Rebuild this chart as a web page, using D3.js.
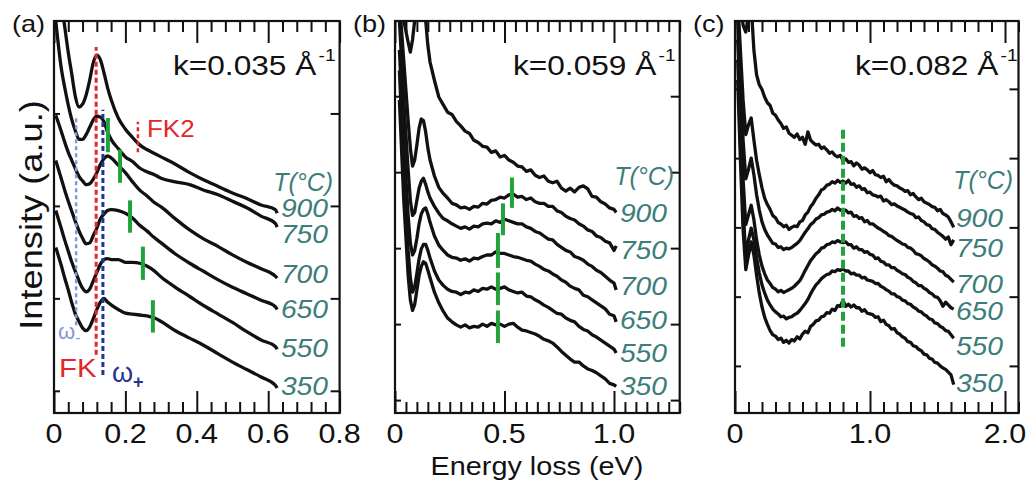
<!DOCTYPE html>
<html><head><meta charset="utf-8">
<script src="https://cdn.jsdelivr.net/npm/d3@7"></script>
<style>
body{margin:0;background:#fff;}
svg{display:block;}
text{font-family:"Liberation Sans",Arial,Helvetica,sans-serif;}
</style>
</head><body>
<svg id="chart" width="1036" height="484"></svg>
<script>
// ---------------- DATA ----------------
const temperatures = ["900","750","700","650","550","350"];

// Panel (a) k = 0.035 1/Å
const energyA = [0.005,0.02,0.03,0.04,0.05,0.06,0.07,0.08,0.09,0.10,0.11,0.12,0.13,0.14,0.15,0.16,0.18,0.20,0.22,0.24,0.26,0.28,0.30,0.34,0.38,0.42,0.46,0.50,0.54,0.58,0.62,0.625];
const a900 = [4.88,4.23,3.94,3.66,3.42,3.18,3.07,3.10,3.20,3.36,3.55,3.63,3.58,3.44,3.28,3.15,2.95,2.83,2.74,2.66,2.61,2.57,2.53,2.45,2.36,2.28,2.21,2.14,2.08,2.01,1.96,1.92];
const a750 = [4.00,3.50,3.28,3.09,2.93,2.81,2.72,2.72,2.77,2.85,2.93,2.97,2.96,2.91,2.80,2.72,2.62,2.53,2.48,2.41,2.37,2.34,2.30,2.26,2.23,2.17,2.12,2.05,1.98,1.89,1.81,1.77];
const a700 = [2.98,2.81,2.69,2.58,2.49,2.40,2.32,2.27,2.23,2.24,2.29,2.36,2.45,2.51,2.54,2.52,2.44,2.36,2.26,2.17,2.11,2.04,1.99,1.86,1.74,1.64,1.56,1.47,1.39,1.32,1.24,1.22];
const a650 = [2.49,2.30,2.17,2.05,1.94,1.83,1.73,1.65,1.59,1.60,1.68,1.76,1.86,1.91,1.95,1.96,1.95,1.92,1.87,1.79,1.73,1.66,1.60,1.48,1.38,1.29,1.20,1.12,1.05,0.98,0.91,0.88];
const a550 = [1.95,1.76,1.63,1.51,1.39,1.29,1.19,1.11,1.07,1.10,1.19,1.28,1.37,1.42,1.43,1.42,1.42,1.39,1.39,1.38,1.35,1.30,1.23,1.12,1.02,0.92,0.83,0.74,0.64,0.55,0.48,0.45];
const a350 = [1.55,1.36,1.22,1.09,0.95,0.83,0.75,0.68,0.65,0.69,0.78,0.88,0.96,1.00,0.96,0.93,0.88,0.84,0.83,0.82,0.81,0.79,0.75,0.65,0.57,0.49,0.40,0.31,0.23,0.15,0.06,0.03];
const markAEnergy = [0.151,0.185,0.213,0.249,0.277];
const markALow    = [2.58,2.25,1.71,1.20,0.63];
const markAHigh   = [2.95,2.61,2.06,1.56,0.98];
const fkEnergy = 0.118, fkRange = [0.39,3.72];
const omegaMinusEnergy = 0.062, omegaMinusRange = [0.71,2.96];
const omegaPlusEnergy = 0.137, omegaPlusRange = [0.17,3.04];
const fk2Energy = 0.235, fk2Range = [2.58,2.91];

// Panel (b) k = 0.059 1/Å
const energyB = [0.02,0.04,0.06,0.07,0.08,0.09,0.10,0.11,0.12,0.13,0.14,0.15,0.16,
  0.18,0.20,0.22,0.24,0.26,0.28,0.30,0.32,0.34,0.36,0.38,0.40,0.42,0.44,0.46,0.48,0.50,0.52,0.54,0.56,0.58,0.60,
  0.62,0.64,0.66,0.68,0.70,0.72,0.74,0.76,0.78,0.80,0.82,0.84,0.86,0.88,0.90,0.92,0.94,0.96,0.98,1.00,1.01];
const b900 = [5.53,5.0,4.71,4.58,4.74,5.0,5.26,5.46,5.46,5.26,5.0,4.67,4.45,
  4.21,3.99,3.89,3.79,3.76,3.67,3.61,3.54,3.51,3.42,3.39,3.34,3.33,3.26,3.28,3.20,3.22,3.16,3.13,3.08,3.07,3.01,
  3.03,2.96,2.93,2.95,2.88,2.86,2.88,2.79,2.75,2.79,2.74,2.80,2.82,2.78,2.68,2.67,2.61,2.58,2.53,2.51,2.47];
const b750 = [5.26,4.47,3.68,3.32,3.08,3.16,3.36,3.58,3.70,3.68,3.53,3.32,3.16,
  2.95,2.80,2.72,2.66,2.59,2.57,2.53,2.54,2.51,2.55,2.54,2.59,2.58,2.63,2.64,2.67,2.66,2.70,2.71,2.67,2.68,2.64,
  2.66,2.61,2.59,2.59,2.55,2.55,2.49,2.47,2.42,2.39,2.37,2.32,2.29,2.24,2.22,2.16,2.14,2.09,2.07,1.97,2.03];
const b700 = [5.0,3.95,3.03,2.63,2.43,2.47,2.63,2.79,2.88,2.92,2.84,2.74,2.66,
  2.55,2.46,2.39,2.36,2.32,2.29,2.26,2.28,2.25,2.29,2.28,2.32,2.33,2.32,2.36,2.34,2.38,2.36,2.34,2.32,2.32,2.28,
  2.26,2.22,2.20,2.16,2.12,2.11,2.05,2.01,1.97,1.95,1.89,1.87,1.84,1.79,1.76,1.71,1.68,1.63,1.58,1.54,1.45];
const b650 = [4.61,3.42,2.43,2.07,1.91,1.97,2.13,2.32,2.45,2.51,2.53,2.45,2.34,
  2.16,2.04,1.97,1.91,1.88,1.87,1.84,1.86,1.83,1.87,1.86,1.89,1.91,1.91,1.95,1.93,1.93,1.91,1.89,1.88,1.86,1.84,
  1.83,1.79,1.76,1.72,1.70,1.66,1.63,1.58,1.55,1.50,1.47,1.45,1.38,1.36,1.32,1.28,1.24,1.20,1.13,1.11,1.03];
const b550 = [4.34,3.03,1.97,1.61,1.42,1.49,1.67,1.86,1.99,2.05,2.05,1.97,1.87,
  1.70,1.58,1.51,1.46,1.43,1.42,1.39,1.42,1.41,1.45,1.43,1.47,1.46,1.49,1.46,1.47,1.49,1.45,1.43,1.41,1.42,1.37,
  1.36,1.32,1.29,1.25,1.22,1.18,1.14,1.13,1.08,1.05,1.03,0.97,0.93,0.91,0.86,0.83,0.79,0.75,0.71,0.67,0.62];
const b350 = [3.95,2.63,1.64,1.32,1.18,1.26,1.45,1.64,1.76,1.82,1.80,1.71,1.61,
  1.42,1.28,1.17,1.08,1.03,0.99,0.96,0.99,0.95,0.97,0.96,1.00,0.97,1.01,0.99,1.00,0.97,1.00,1.01,0.96,0.92,0.91,
  0.89,0.87,0.84,0.80,0.78,0.75,0.70,0.64,0.59,0.54,0.50,0.50,0.45,0.41,0.39,0.36,0.32,0.28,0.22,0.20,0.18];
const markBEnergy = [0.534,0.493,0.470,0.470,0.470];
const markBLow    = [2.53,2.17,1.74,1.25,0.75];
const markBHigh   = [2.93,2.59,2.20,1.68,1.18];

// Panel (c) k = 0.082 1/Å
const energyC = [0.02,0.04,0.06,0.08,0.10,0.12,0.14,0.16,0.18,0.20,
  0.22,0.24,0.26,0.28,0.30,0.32,0.34,0.36,0.38,0.40,
  0.42,0.44,0.46,0.48,0.50,0.52,0.54,0.56,0.58,0.60,
  0.62,0.64,0.66,0.68,0.70,0.72,0.74,0.76,0.78,0.80,
  0.82,0.84,0.86,0.88,0.90,0.92,0.94,0.96,0.98,1.00,
  1.02,1.04,1.06,1.08,1.10,1.12,1.14,1.16,1.18,1.20,
  1.22,1.24,1.26,1.28,1.30,1.32,1.34,1.36,1.38,1.40,
  1.42,1.44,1.46,1.48,1.50,1.52,1.54,1.56,1.58,1.60, 1.62];
const c900 = [5.72,5.29,4.92,4.82,5.07,5.21,4.56,4.20,4.06,3.99,
  3.88,3.80,3.76,3.65,3.62,3.55,3.50,3.43,3.45,3.36,
  3.33,3.30,3.35,3.27,3.30,3.20,3.38,3.26,3.22,3.19,
  3.20,3.14,3.16,3.12,3.07,3.09,3.04,3.02,3.04,2.97,
  2.99,2.94,2.95,2.89,2.93,2.90,2.84,2.86,2.83,2.79,
  2.82,2.76,2.75,2.72,2.74,2.66,2.69,2.64,2.61,2.60,
  2.57,2.55,2.52,2.53,2.47,2.49,2.44,2.40,2.42,2.37,
  2.35,2.33,2.30,2.29,2.24,2.26,2.20,2.18,2.15,2.08, 2.00];
const c750 = [5.29,4.56,3.84,3.34,3.48,3.58,3.26,2.97,2.76,2.57,
  2.42,2.33,2.26,2.17,2.14,2.07,2.05,2.01,2.03,1.97,
  2.00,2.02,2.01,2.08,2.10,2.18,2.22,2.30,2.35,2.42,
  2.47,2.54,2.56,2.61,2.62,2.66,2.64,2.68,2.65,2.67,
  2.64,2.68,2.62,2.63,2.58,2.60,2.55,2.56,2.50,2.51,
  2.47,2.46,2.44,2.45,2.38,2.40,2.37,2.33,2.34,2.31,
  2.29,2.27,2.25,2.22,2.20,2.19,2.14,2.15,2.10,2.08,
  2.04,2.03,1.98,1.97,1.93,1.90,1.87,1.83,1.86,1.75, 1.82];
const c700 = [5.0,4.13,3.26,2.70,2.84,3.00,2.76,2.47,2.25,2.08,
  1.97,1.89,1.83,1.77,1.76,1.71,1.72,1.68,1.70,1.69,
  1.71,1.74,1.77,1.81,1.87,1.93,1.98,2.04,2.07,2.12,
  2.14,2.18,2.19,2.22,2.23,2.26,2.24,2.28,2.25,2.24,
  2.25,2.21,2.22,2.16,2.17,2.13,2.14,2.08,2.10,2.05,
  2.05,2.02,1.99,1.97,1.94,1.92,1.88,1.87,1.84,1.81,
  1.79,1.76,1.75,1.71,1.70,1.67,1.62,1.61,1.59,1.55,
  1.53,1.50,1.46,1.44,1.41,1.37,1.36,1.31,1.29,1.25, 1.21];
const c650 = [4.71,3.70,2.69,2.04,2.18,2.32,2.11,1.82,1.60,1.44,
  1.33,1.24,1.19,1.13,1.11,1.07,1.09,1.06,1.08,1.10,
  1.12,1.15,1.19,1.23,1.30,1.38,1.45,1.52,1.57,1.62,
  1.65,1.70,1.71,1.75,1.76,1.79,1.78,1.81,1.79,1.78,
  1.79,1.75,1.75,1.70,1.72,1.68,1.68,1.64,1.65,1.61,
  1.60,1.55,1.56,1.51,1.50,1.46,1.46,1.42,1.42,1.38,
  1.36,1.33,1.32,1.28,1.26,1.22,1.20,1.16,1.16,1.12,
  1.10,1.06,1.04,1.00,0.99,0.94,0.86,0.92,0.88,0.84, 0.82];
const c550 = [4.42,3.26,2.25,1.60,1.82,1.99,1.82,1.56,1.34,1.17,
  1.05,0.95,0.88,0.82,0.78,0.75,0.71,0.72,0.68,0.70,
  0.71,0.74,0.76,0.80,0.85,0.90,0.96,1.04,1.11,1.17,
  1.21,1.26,1.29,1.32,1.33,1.37,1.36,1.39,1.38,1.40,
  1.37,1.37,1.33,1.34,1.31,1.31,1.27,1.28,1.24,1.23,
  1.22,1.19,1.19,1.15,1.13,1.10,1.08,1.04,1.04,1.00,
  0.99,0.95,0.94,0.90,0.89,0.85,0.83,0.79,0.78,0.74,
  0.72,0.68,0.67,0.62,0.61,0.57,0.55,0.51,0.50,0.45, 0.40];
const c350 = [4.13,2.97,1.96,1.39,1.60,1.79,1.60,1.31,1.05,0.85,
  0.70,0.60,0.51,0.45,0.43,0.38,0.40,0.34,0.37,0.33,
  0.38,0.36,0.42,0.39,0.46,0.50,0.48,0.57,0.60,0.65,
  0.66,0.71,0.72,0.77,0.76,0.82,0.80,0.87,0.86,0.95,
  0.86,0.89,0.85,0.88,0.84,0.84,0.79,0.81,0.76,0.75,
  0.74,0.70,0.71,0.64,0.66,0.60,0.58,0.53,0.54,0.48,
  0.46,0.42,0.40,0.35,0.34,0.29,0.28,0.24,0.22,0.17,
  0.16,0.11,0.10,0.05,0.04,0.00,-0.03,-0.05,-0.09,-0.13, -0.27];
const dashCEnergy = 0.80, dashCRange = [0.27,3.41];

const tickValuesA = [0,0.2,0.4,0.6,0.8], tickLabelsA = ["0","0.2","0.4","0.6","0.8"];
const tickValuesB = [0,0.5,1.0],         tickLabelsB = ["0","0.5","1.0"];
const tickValuesC = [0,1.0,2.0],         tickLabelsC = ["0","1.0","2.0"];
const yTicksA = [0,1,2,3], yTicksB = [0,1,2,3,4], yTicksC = [0,1,2,3,4];
const panelLetters = ["(a)","(b)","(c)"];
const kValues = ["0.035","0.059","0.082"];

// ---------------- LAYOUT / STYLE ----------------
const RED = "#e3262b", DBLUE = "#25348f", LBLUE = "#8797d6", GREEN = "#22a23a", TEAL = "#3d7d79";
const SX = 1.13; // horizontal stretch of the original lettering

const panels = [
  {key:"a", x0:54,  x1:339.6, xd:[0,0.8], yd:[-0.24,4.0], energy:energyA, series:[a900,a750,a700,a650,a550,a350],
   ticks:tickValuesA, labels:tickLabelsA, minorStep:0.04, yTicks:yTicksA, curve:d3.curveMonotoneX,
   letterX:12, kX:173, tX:333, tY:191, valX:328, valY:[217,243,283,318,357,395]},
  {key:"b", x0:395, x1:679.7, xd:[0,1.3], yd:[-0.17,4.99], energy:energyB, series:[b900,b750,b700,b650,b550,b350],
   ticks:tickValuesB, labels:tickLabelsB, minorStep:0.05, yTicks:yTicksB, curve:d3.curveLinear,
   letterX:353, kX:513, tX:674, tY:185, valX:667, valY:[222,259,295,329,362,395]},
  {key:"c", x0:735, x1:1018.5, xd:[0,2.1], yd:[-0.68,4.98], energy:energyC, series:[c900,c750,c700,c650,c550,c350],
   ticks:tickValuesC, labels:tickLabelsC, minorStep:0.1, yTicks:yTicksC, curve:d3.curveLinear,
   letterX:693, kX:855, tX:1013, tY:189, valX:1003, valY:[227,257,293,320,355,392]}
];
const Y0 = 21, Y1 = 413;

const svg = d3.select("#chart");

function stext(parent, x, y, str, size, anchor, sx, fill, extra) {
  const t = parent.append("text")
    .attr("transform", `translate(${x},${y}) scale(${sx},1)`)
    .attr("text-anchor", anchor)
    .attr("font-size", size)
    .attr("fill", fill || "#111")
    .text(str);
  if (extra) extra(t);
  return t;
}

panels.forEach((p, pi) => {
  const x = d3.scaleLinear().domain(p.xd).range([p.x0, p.x1]);
  const y = d3.scaleLinear().domain(p.yd).range([Y1, Y0]);
  const g = svg.append("g");

  g.append("clipPath").attr("id", "clip" + p.key)
    .append("rect").attr("x", p.x0).attr("y", Y0).attr("width", p.x1 - p.x0).attr("height", Y1 - Y0);

  // spectra
  const line = d3.line().x(d => x(d[0])).y(d => y(d[1])).curve(p.curve);
  p.series.forEach(s => {
    g.append("path").datum(d3.zip(p.energy, s))
      .attr("d", line).attr("fill", "none").attr("stroke", "#111")
      .attr("stroke-width", 3.3).attr("stroke-linejoin", "round")
      .attr("clip-path", `url(#clip${p.key})`);
  });

  // axes (ticks inward)
  const minors = d3.range(0, p.xd[1] + 1e-9, p.minorStep)
    .filter(v => !p.ticks.some(m => Math.abs(m - v) < 1e-6));
  const style = sel => { sel.select(".domain").remove(); sel.selectAll("line").attr("stroke", "#111").attr("stroke-width", 2); sel.selectAll("text").remove(); };
  g.append("g").attr("transform", `translate(0,${Y1})`).call(d3.axisBottom(x).tickValues(p.ticks).tickSize(-22).tickSizeOuter(0)).call(style);
  g.append("g").attr("transform", `translate(0,${Y1})`).call(d3.axisBottom(x).tickValues(minors).tickSize(-11).tickSizeOuter(0)).call(style);
  g.append("g").attr("transform", `translate(0,${Y0})`).call(d3.axisTop(x).tickValues(p.ticks).tickSize(-22).tickSizeOuter(0)).call(style);
  g.append("g").attr("transform", `translate(0,${Y0})`).call(d3.axisTop(x).tickValues(minors).tickSize(-11).tickSizeOuter(0)).call(style);
  g.append("g").attr("transform", `translate(${p.x0},0)`).call(d3.axisLeft(y).tickValues(p.yTicks).tickSize(-6).tickSizeOuter(0)).call(style);
  g.append("g").attr("transform", `translate(${p.x1},0)`).call(d3.axisRight(y).tickValues(p.yTicks).tickSize(-9).tickSizeOuter(0)).call(style);

  g.append("rect").attr("x", p.x0).attr("y", Y0).attr("width", p.x1 - p.x0).attr("height", Y1 - Y0)
    .attr("fill", "none").attr("stroke", "#111").attr("stroke-width", 2.2);

  // tick labels
  p.ticks.forEach((v, i) => stext(g, x(v), 443, p.labels[i], 27, "middle", SX));

  // panel letter
  stext(g, p.letterX, 32, panelLetters[pi], 24, "start", SX);

  // k label
  stext(g, p.kX, 75, "k=" + kValues[pi] + " Å", 28, "start", SX, "#111", t => {
    t.append("tspan").attr("font-size", 17).attr("dy", -14).attr("dx", 2).text("-1");
  });

  // temperature labels
  stext(g, p.tX, p.tY, "T(°C)", 26, "end", 0.96, TEAL).attr("font-style", "italic");
  temperatures.forEach((tl, i) => stext(g, p.valX, p.valY[i], tl, 25, "end", SX, TEAL).attr("font-style", "italic"));

  // annotations
  if (p.key === "a") {
    const vline = (e, r, color, dash, w) => g.append("line")
      .attr("x1", x(e)).attr("x2", x(e)).attr("y1", y(r[0])).attr("y2", y(r[1]))
      .attr("stroke", color).attr("stroke-width", w).attr("stroke-dasharray", dash);
    vline(omegaMinusEnergy, omegaMinusRange, LBLUE, "4,3", 2.5);
    vline(fkEnergy, fkRange, RED, "5,3", 3);
    vline(omegaPlusEnergy, omegaPlusRange, DBLUE, "5,3", 3);
    vline(fk2Energy, fk2Range, RED, "4,3", 2.5);
    markAEnergy.forEach((e, i) => vline(e, [markALow[i], markAHigh[i]], GREEN, null, 4));
    stext(g, 147, 137, "FK2", 23, "start", SX, RED);
    stext(g, 59, 377, "FK", 26, "start", SX, RED);
    g.append("text").attr("x", 58).attr("y", 339).attr("font-family", "'Liberation Serif','Times New Roman',serif")
      .attr("font-size", 22).attr("fill", LBLUE).text("ω")
      .append("tspan").attr("font-size", 16).attr("dy", 4).attr("font-family", "'Liberation Sans',Arial,sans-serif").text("-");
    g.append("text").attr("x", 112).attr("y", 382).attr("font-family", "'Liberation Serif','Times New Roman',serif")
      .attr("font-size", 27).attr("fill", DBLUE).text("ω")
      .append("tspan").attr("font-size", 18).attr("dy", 6).attr("font-weight", "bold").attr("font-family", "'Liberation Sans',Arial,sans-serif").text("+");
  }
  if (p.key === "b") {
    markBEnergy.forEach((e, i) => g.append("line")
      .attr("x1", x(e)).attr("x2", x(e)).attr("y1", y(markBLow[i])).attr("y2", y(markBHigh[i]))
      .attr("stroke", GREEN).attr("stroke-width", 4));
  }
  if (p.key === "c") {
    g.append("line").attr("x1", x(dashCEnergy)).attr("x2", x(dashCEnergy))
      .attr("y1", y(dashCRange[1])).attr("y2", y(dashCRange[0]))
      .attr("stroke", GREEN).attr("stroke-width", 4).attr("stroke-dasharray", "9,4");
  }
});

// shared axis titles
stext(svg, 537, 475, "Energy loss (eV)", 25.5, "middle", SX);
svg.append("text").attr("transform", "translate(42,215) rotate(-90) scale(1.17,1)")
  .attr("text-anchor", "middle").attr("font-size", 31).attr("fill", "#111").text("Intensity (a.u.)");
</script>
</body></html>
